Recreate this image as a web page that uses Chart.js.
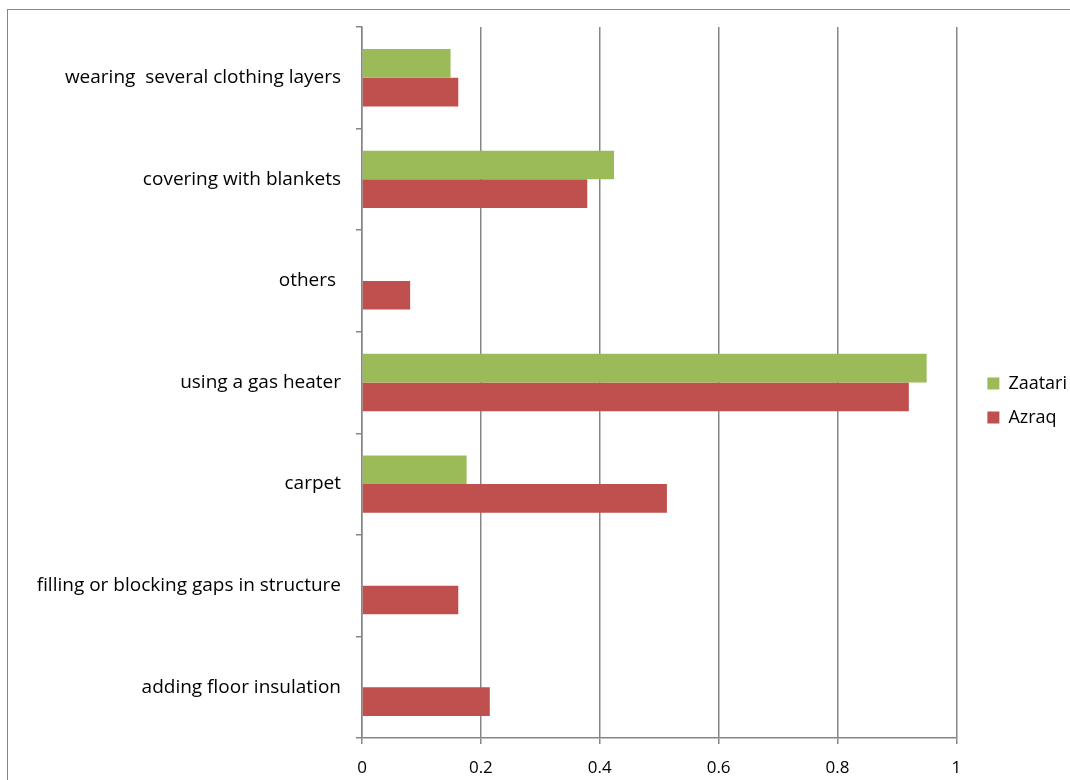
<!DOCTYPE html>
<html>
<head>
<meta charset="utf-8">
<script src="https://cdn.jsdelivr.net/npm/chart.js@4/dist/chart.umd.min.js"></script>
<style>
  html, body { margin: 0; padding: 0; background: #fff; }
  #wrap { width: 1070px; height: 780px; }
</style>
</head>
<body>
<div id="wrap"><canvas id="chart" width="1070" height="780"></canvas></div>
<script>
// share of households per winterisation measure
var categories = [
    'wearing  several clothing layers',
    'covering with blankets',
    'others ',
    'using a gas heater',
    'carpet',
    'filling or blocking gaps in structure',
    'adding floor insulation'
];
var zaatari = [0.149, 0.424, 0, 0.950, 0.176, 0, 0];
var azraq = [0.162, 0.379, 0.081, 0.920, 0.513, 0.162, 0.215];
var xTicks = [0, 0.2, 0.4, 0.6, 0.8, 1];

var axisGrey = '#868686';
var fontFamily = '"Open Sans", sans-serif';

// frame round the whole chart, cut off on the right and bottom
var frame = {
    id: 'frame',
    beforeDraw: function(chart){
        var ctx = chart.ctx;
        ctx.save();
        ctx.fillStyle = '#fff';
        ctx.fillRect(0, 0, chart.width, chart.height);
        ctx.strokeStyle = axisGrey;
        ctx.lineWidth = 1;
        ctx.strokeRect(7.5, 9.5, 1200, 900);
        ctx.restore();
    }
};

// leave a gap between the plot and the legend
var legendGap = {
    id: 'legendGap',
    afterLayout: function(chart){
        var lg = chart.legend;
        lg.left += 15;
        lg.right += 15;
        lg.top -= 3;
        lg.bottom -= 3;
    }
};

window.onload = function(){
    var canvas = document.getElementById('chart');
    window.chartInstance = new Chart(canvas.getContext('2d'), {
        type: 'bar',
        data: {
            labels: categories,
            datasets: [{
                label: 'Zaatari',
                data: zaatari,
                backgroundColor: '#9BBB59',
                borderWidth: 0
            },{
                label: 'Azraq',
                data: azraq,
                backgroundColor: '#C0504D',
                borderWidth: 0
            }]
        },
        options: {
            indexAxis: 'y',
            responsive: false,
            animation: false,
            devicePixelRatio: 1,
            categoryPercentage: 0.565,
            barPercentage: 1,
            layout: {
                padding: { top: 27, left: 0, right: 8, bottom: 0 }
            },
            scales: {
                x: {
                    min: 0,
                    max: 1,
                    afterBuildTicks: function(scale){
                        scale.ticks = xTicks.map(function(v){ return { value: v }; });
                    },
                    ticks: {
                        color: '#000',
                        padding: 14,
                        font: { family: fontFamily, size: 17 },
                        callback: function(v){ return String(v); }
                    },
                    grid: {
                        color: axisGrey,
                        lineWidth: 1.5,
                        tickLength: 6
                    },
                    border: { color: axisGrey, width: 1.5 },
                    afterFit: function(scale){ scale.height = 42; }
                },
                y: {
                    ticks: {
                        color: '#000',
                        padding: 15,
                        font: { family: fontFamily, size: 19 }
                    },
                    grid: {
                        drawOnChartArea: false,
                        color: axisGrey,
                        lineWidth: 1.5,
                        tickLength: 6,
                        offset: true
                    },
                    border: { color: axisGrey, width: 1.5 },
                    afterFit: function(scale){ scale.width = 362; }
                }
            },
            plugins: {
                legend: {
                    position: 'right',
                    labels: {
                        boxWidth: 12,
                        boxHeight: 12,
                        padding: 16,
                        color: '#000',
                        font: { family: fontFamily, size: 18 }
                    }
                },
                tooltip: { enabled: false }
            }
        },
        plugins: [frame, legendGap]
    });
};
</script>
</body>
</html>
